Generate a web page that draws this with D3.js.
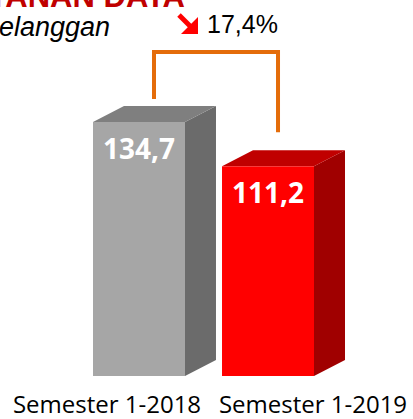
<!DOCTYPE html>
<html>
<head>
<meta charset="utf-8">
<script src="https://cdn.jsdelivr.net/npm/d3@7"></script>
<style>
body { margin: 0; background: #fff; }
svg { display: block; }
</style>
</head>
<body>
<div id="chart"></div>
<script>
var w = 413,
    h = 419;

// data
var categories = ["Semester 1-2018", "Semester 1-2019"];
var values = [134.7, 111.2];
var valueLabels = ["134,7", "111,2"];
var changeLabel = "17,4%";
var titleText = "LAYANAN DATA";
var subtitleText = "Jumlah Pelanggan";

var frontColors = ["#a6a6a6", "#ff0000"];
var topColors = ["#7f7f7f", "#c00000"];
var sideColors = ["#6b6b6b", "#a00000"];

var depthX = 31, depthY = 16;

var svg = d3.select("#chart")
    .append("svg")
    .attr("width", w)
    .attr("height", h);

var x = d3.scaleBand()
    .domain(categories)
    .range([93, 314])
    .paddingInner(0.287)
    .paddingOuter(0);

var y = d3.scaleLinear()
    .domain([0, 134.7])
    .range([376, 122]);

var xLabel = d3.scalePoint()
    .domain(categories)
    .range([107, 313]);

var data = categories.map(function(c, i) {
    return { cat: c, v: values[i], label: valueLabels[i], i: i };
});

var bw = x.bandwidth();

// side faces
svg.selectAll(".side")
    .data(data)
    .enter()
    .append("path")
    .attr("class", "side")
    .attr("d", function(d) {
        var x0 = x(d.cat) + bw, y0 = y(d.v), y1 = y(0);
        return "M" + x0 + "," + y0 + "L" + (x0 + depthX) + "," + (y0 - depthY) +
            "L" + (x0 + depthX) + "," + (y1 - depthY) + "L" + x0 + "," + y1 + "Z";
    })
    .attr("fill", function(d) { return sideColors[d.i]; });

// top faces
svg.selectAll(".top")
    .data(data)
    .enter()
    .append("path")
    .attr("class", "top")
    .attr("d", function(d) {
        var x0 = x(d.cat), y0 = y(d.v);
        return "M" + x0 + "," + y0 + "L" + (x0 + depthX) + "," + (y0 - depthY) +
            "L" + (x0 + bw + depthX) + "," + (y0 - depthY) + "L" + (x0 + bw) + "," + y0 + "Z";
    })
    .attr("fill", function(d) { return topColors[d.i]; });

// front faces
svg.selectAll(".bar")
    .data(data)
    .enter()
    .append("rect")
    .attr("class", "bar")
    .attr("x", function(d) { return x(d.cat); })
    .attr("y", function(d) { return y(d.v); })
    .attr("width", bw)
    .attr("height", function(d) { return y(0) - y(d.v); })
    .attr("fill", function(d) { return frontColors[d.i]; });

// value labels
svg.selectAll(".val")
    .data(data)
    .enter()
    .append("text")
    .attr("class", "val")
    .attr("x", function(d) { return x(d.cat) + bw / 2; })
    .attr("y", function(d) { return y(d.v) + 37; })
    .attr("text-anchor", "middle")
    .attr("font-family", "'Open Sans', sans-serif")
    .attr("font-weight", "bold")
    .attr("font-size", "28px")
    .attr("fill", "#fff")
    .text(function(d) { return d.label; });

// category labels
svg.selectAll(".cat")
    .data(data)
    .enter()
    .append("text")
    .attr("class", "cat")
    .attr("x", function(d) { return xLabel(d.cat); })
    .attr("y", 413)
    .attr("text-anchor", "middle")
    .attr("font-family", "'Open Sans', sans-serif")
    .attr("font-size", "24px")
    .attr("fill", "#000")
    .text(function(d) { return d.cat; });

// bracket
var bx = [x(categories[0]) + 61, x(categories[1]) + 56];
var bTop = 52;
svg.append("path")
    .attr("d", "M" + bx[0] + "," + (y(values[0]) - 23) + "L" + bx[0] + "," + bTop +
        "L" + bx[1] + "," + bTop + "L" + bx[1] + "," + (y(values[1]) - 34))
    .attr("fill", "none")
    .attr("stroke", "#e46c0a")
    .attr("stroke-width", 4);

// arrow
var arrow = svg.append("g").attr("fill", "#ff0000").attr("stroke", "#ff0000");
arrow.append("line")
    .attr("x1", 179).attr("y1", 15)
    .attr("x2", 192).attr("y2", 28)
    .attr("stroke-width", 5);
arrow.append("path")
    .attr("d", "M198,17L198,34L181,34Z")
    .attr("stroke", "none");

svg.append("text")
    .attr("x", 207)
    .attr("y", 33)
    .attr("font-family", "'Liberation Sans', Arial, sans-serif")
    .attr("font-size", "25px")
    .attr("fill", "#000")
    .text(changeLabel);

// title, cut at the top
svg.append("text")
    .attr("x", 185)
    .attr("y", 7)
    .attr("text-anchor", "end")
    .attr("font-family", "'Liberation Sans', Arial, sans-serif")
    .attr("font-weight", "bold")
    .attr("font-size", "31px")
    .attr("fill", "#c00000")
    .text(titleText);

svg.append("text")
    .attr("x", 110)
    .attr("y", 36)
    .attr("text-anchor", "end")
    .attr("font-family", "'Liberation Sans', Arial, sans-serif")
    .attr("font-style", "italic")
    .attr("font-size", "27px")
    .attr("fill", "#000")
    .text(subtitleText);
</script>
</body>
</html>
